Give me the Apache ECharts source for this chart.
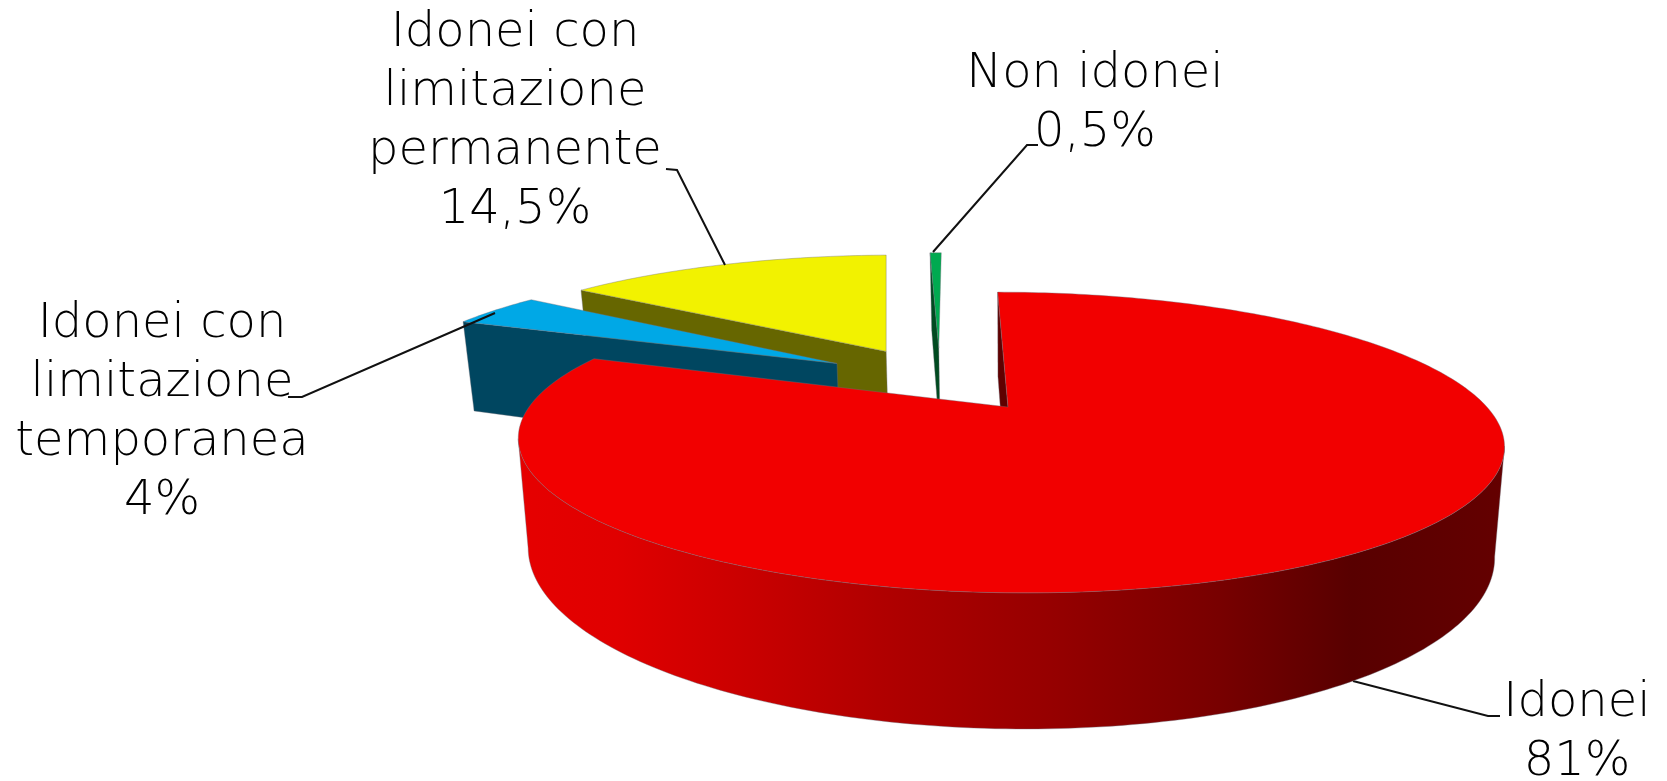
<!DOCTYPE html>
<html><head><meta charset="utf-8">
<style>html,body{margin:0;padding:0;background:#fff}#c{width:1667px;height:781px}</style>
<script src="https://cdn.jsdelivr.net/npm/echarts@6/dist/echarts.min.js"></script>
</head><body><div id="c"></div>
<script>
const categories = ['Idonei', 'Idonei con\nlimitazione\ntemporanea', 'Idonei con\nlimitazione\npermanente', 'Non idonei'];
const values = [81, 4, 14.5, 0.5];

const FONT = '"DejaVu Sans Light","DejaVu Sans"';
const styles = [
  {top:'#F20000', wall:'#600000'},
  {top:'#00A8E6', wall:'#004660'},
  {top:'#F2F200', wall:'#666600'},
  {top:'#00AA50', wall:'#004A20'}
];
const labelAt = [[1577,733],[162,413],[515,122],[1095,104]];
const leaders = [
  [[1353,681],[1488,716],[1500,716]],
  [[288,397],[302,397],[495,313]],
  [[666,169],[677,170],[725,265]],
  [[933,252],[1027,145],[1038,145]]
];
const nudges = [0,-6,-4,-1];
const drawOrder = [3,2,1,0];
const START = 0.1, EXPLODE = 0.252, HEIGHT = 104, SHRINK = 0.02, XC = 1012;
const total = values.reduce((a,b)=>a+b,0);
const RAD = Math.PI/180;
let cum = 0;
const arcs = values.map(v=>{const s=START+cum*360/total; cum+=v; return [s,START+cum*360/total];});
const mid0 = (arcs[0][0]+arcs[0][1])/2*RAD;
const X0 = -EXPLODE*Math.sin(mid0), Y0 = EXPLODE*Math.cos(mid0);

function proj(X,Y,low,dx){
  const w = 1-0.236*Y;
  let x = 1008+(479*X+13.6*Y)/w+dx, y = 407+142*Y/w;
  if(low){ x = XC+(x-XC)*(1-SHRINK); y += HEIGHT/w; }
  return [x,y];
}
function slicePts(i){
  const [a0,a1]=arcs[i], m=(a0+a1)/2*RAD, dx=nudges[i];
  const ox=X0+EXPLODE*Math.sin(m), oy=Y0-EXPLODE*Math.cos(m);
  const n=Math.max(2,Math.ceil((a1-a0)/1.0));
  const arc=(low)=>{const p=[];for(let k=0;k<=n;k++){const t=(a0+(a1-a0)*k/n)*RAD;p.push(proj(ox+Math.sin(t),oy-Math.cos(t),low,dx));}return p;};
  return {top:arc(false),low:arc(true),a:proj(ox,oy,false,dx),b:proj(ox,oy,true,dx)};
}
function poly(points,fill,z){
  return {type:'polygon',shape:{points},z2:z,style:{fill,stroke:'rgba(110,110,120,0.55)',lineWidth:0.7,lineJoin:'round'}};
}
function renderItem(params,api){
  const i=api.value(0), s=slicePts(i), st=styles[i], base=drawOrder.indexOf(i)*10, children=[];
  let iR=0,iL=0;
  s.top.forEach((p,k)=>{ if(p[0]>s.top[iR][0]) iR=k; if(p[0]<s.top[iL][0]) iL=k; });
  if(iR<iL && i===0){
    const f=new echarts.graphic.LinearGradient(0,0,1,0,[
      {offset:0,color:'#E60000'},{offset:0.10,color:'#E00000'},{offset:0.24,color:'#C80000'},{offset:0.37,color:'#B00000'},
      {offset:0.54,color:'#960000'},{offset:0.71,color:'#780000'},{offset:0.845,color:'#580000'},{offset:1,color:'#640000'}
    ]);
    children.push(poly(s.top.slice(iR,iL+1).concat(s.low.slice(iR,iL+1).reverse()),f,base+1));
  }
  children.push(poly([s.top[0],s.a,s.b,s.low[0]],st.wall,base+2));
  children.push(poly([s.a].concat(s.top),st.top,base+3));
  const pct=String(values[i]).replace('.',',')+'%';
  children.push({type:'polyline',shape:{points:leaders[i]},z2:i===0?0:100,style:{fill:null,stroke:'#111',lineWidth:2}});
  children.push({type:'text',z2:101,x:labelAt[i][0],y:labelAt[i][1],style:{text:categories[i]+'\n'+pct,fill:'#000',font:'48px '+FONT,lineHeight:59,align:'center',verticalAlign:'middle'}});
  return {type:'group',children};
}
const chart=echarts.init(document.getElementById('c'),null,{renderer:'canvas'});
chart.setOption({
  animation:false,backgroundColor:'#fff',
  series:[{type:'custom',coordinateSystem:'none',renderItem,data:values.map((v,i)=>[i,v])}]
});
</script></body></html>
